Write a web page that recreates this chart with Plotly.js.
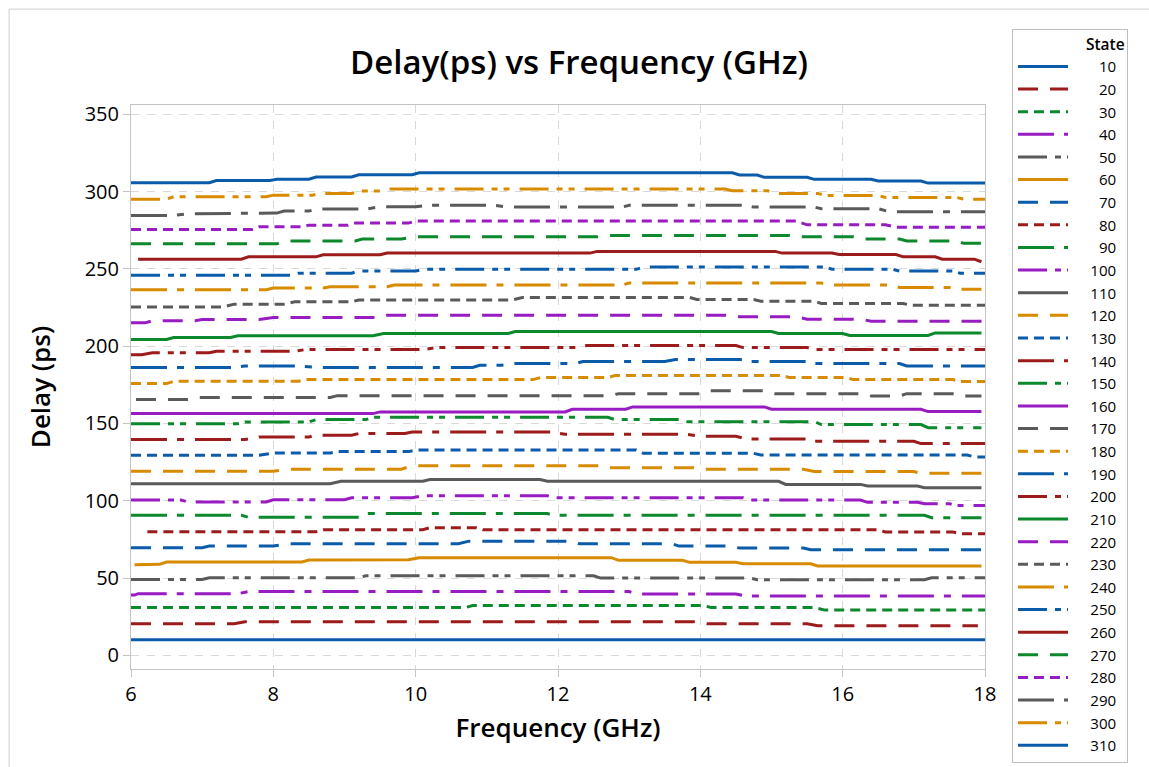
<!DOCTYPE html>
<html>
<head>
<meta charset="utf-8">
<script src="https://cdn.plot.ly/plotly-3.0.1.min.js"></script>
<style>html,body{margin:0;padding:0;background:#fff;}#chart{width:1149px;height:767px;}</style>
</head>
<body>
<div id="chart"></div>
<script>
// State labels
const states = [10,20,30,40,50,60,70,80,90,100,110,120,130,140,150,160,170,180,190,200,210,220,230,240,250,260,270,280,290,300,310];

// Frequency (GHz) breakpoints and delay (ps) values per state
const f10 = [6,18];
const d10 = [10.1,10.1];
const f20 = [6,7.45,7.6,13.95,14.1,15.5,15.65,17.9];
const d20 = [20.5,20.5,21.8,21.8,20.5,20.5,19.2,19.2];
const f30 = [6,10.7,10.8,14.05,14.15,15.6,15.75,18];
const d30 = [31,31,32.2,32.2,31,31,29.3,29.3];
const f40 = [6,6.05,6.1,7.5,7.65,13.0,13.1,14.5,14.65,18];
const d40 = [39,39,39.9,39.9,41.3,41.3,39.7,39.7,38.4,38.4];
const f50 = [6,7.0,7.1,9.2,9.3,12.5,12.6,14.7,14.8,17.15,17.25,18];
const d50 = [49.1,49.1,50.2,50.2,51.5,51.5,50,50,48.9,48.9,50.2,50.2];
const f60 = [6.05,6.4,6.5,8.4,8.5,9.9,10.05,12.75,12.85,13.75,13.85,14.5,14.6,15.55,15.65,17.95];
const d60 = [58.6,58.9,60.4,60.4,61.7,61.9,63.2,63.2,61.5,61.5,60.2,60.2,59.3,59.3,57.8,57.8];
const f70 = [6,7,7.1,8.0,8.2,10.6,10.75,12.2,12.3,13.6,13.7,14.45,14.55,15.45,15.55,17.95];
const d70 = [69.7,69.7,70.7,70.7,72.2,72.2,73.9,73.9,72.2,72.2,70.7,70.7,69.4,69.4,68.4,68.4];
const f80 = [6.23,8.6,8.7,10.1,10.2,10.85,10.95,16.5,16.6,17.55,17.65,18];
const d80 = [80,80,81.3,81.3,82.6,82.6,81.2,81.2,79.8,79.8,78.7,78.7];
const f90 = [6,7.55,7.65,9.2,9.3,11.85,11.95,17.15,17.25,17.95];
const d90 = [90.6,90.6,89.3,89.3,91.7,91.7,90.6,90.6,89.1,89.1];
const f100 = [6,6.7,6.8,7.9,8.0,9.0,9.1,9.95,10.1,11.85,11.95,14.6,14.7,16.25,16.35,17.05,17.15,17.5,17.6,18];
const d100 = [100.5,100.5,99.2,99.2,100.7,100.7,102,102,103.3,103.3,102,102,100.5,100.5,99,99,98.1,98.1,97,97];
const f110 = [6,8.8,8.95,10.1,10.2,11.75,11.85,15.1,15.2,16.25,16.35,17.05,17.15,17.95];
const d110 = [111.1,111.1,112.6,112.6,113.7,113.7,112.6,112.6,110.6,110.6,109.6,109.6,108.5,108.5];
const f120 = [6,8.0,8.2,9.8,9.95,12.6,12.7,13.9,14.0,15.45,15.6,17.0,17.1,17.95];
const d120 = [119.1,119.1,120.4,120.4,122.7,122.7,121.4,121.4,120.4,120.4,118.9,118.9,117.8,117.8];
const f130 = [6,7.8,8.0,8.8,8.9,9.9,10.0,13.1,13.2,14.75,14.85,17.75,17.85,18];
const d130 = [129.4,129.4,130.9,130.9,131.8,131.8,132.8,132.8,130.7,130.7,129.6,129.6,128.4,128.4];
const f140 = [6,7.6,7.8,8.5,8.6,9.1,9.2,9.85,9.95,11.9,12.1,13.8,14.0,14.5,14.65,15.5,15.6,17.0,17.1,18];
const d140 = [139.6,139.6,141.3,141.3,142.4,142.4,143.5,143.5,144.5,144.5,143.0,143.0,141.7,141.7,140.0,140.0,138.5,138.5,137,137];
const f150 = [6,7.5,7.6,8.5,8.6,9.3,9.4,12.7,12.8,13.7,13.8,15.6,15.7,17.1,17.2,17.95];
const d150 = [149.9,149.9,151,151,152.5,152.5,154,154,152.5,152.5,151.2,151.2,149.3,149.3,147.3,147.3];
const f160 = [6,9.4,9.5,12.1,12.2,12.95,13.05,14.9,15.0,17.1,17.2,17.95];
const d160 = [156.4,156.4,157.5,157.5,159.2,159.2,160.7,160.7,159.2,159.2,157.7,157.7];
const f170 = [6.07,6.8,6.95,8.8,8.9,12.75,12.85,14.0,14.1,14.9,15.05,16.3,16.4,16.8,16.9,17.6,17.7,17.95];
const d170 = [165.5,165.5,166.8,166.8,168,168,169.3,169.3,171.1,171.1,169.3,169.3,167.8,167.8,169.3,169.3,167.8,167.8];
const f180 = [6,6.5,6.6,8.35,8.45,11.65,11.75,12.7,12.8,15.15,15.25,16.05,16.15,17.55,17.65,18];
const d180 = [175.8,175.8,177.3,177.3,178.4,178.4,179.7,179.7,181,181,179.7,179.7,178.4,178.4,177.1,177.1];
const f190 = [6,7.45,7.6,8.3,8.7,10.8,10.9,11.2,11.4,12.25,12.35,13.5,13.65,14.6,14.7,15.5,15.6,16.8,16.9,18];
const d190 = [186.2,186.2,187.2,187.2,186.2,186.2,187.7,187.7,188.8,188.8,190.1,190.1,191.4,191.4,190.1,190.1,188.8,188.8,187.2,187.2];
const f200 = [6,6.15,6.3,7.1,7.2,8.3,8.45,10.1,10.3,12.3,12.4,14.5,14.6,15.5,15.6,18];
const d200 = [194.4,194.4,195.7,195.7,196.7,196.7,197.8,197.8,199.1,199.1,200.4,200.4,199.1,199.1,197.8,197.8];
const f210 = [6,6.5,6.6,7.4,7.5,9.4,9.55,11.3,11.4,15.0,15.1,16.0,16.1,17.2,17.3,17.95];
const d210 = [204.3,204.3,205.6,205.6,206.7,206.7,208.2,208.2,209.5,209.5,208.2,208.2,206.9,206.9,208.6,208.6];
const f220 = [6,6.2,6.3,6.9,7.0,7.8,8.0,9.5,9.6,14.4,14.55,15.35,15.5,16.25,16.4,18];
const d220 = [215.1,215.1,216.4,216.4,217.2,217.2,218.5,218.5,220,220,219,219,217.5,217.5,216.2,216.2];
const f230 = [6,7.3,7.45,8.15,8.3,9.1,9.2,11.35,11.5,13.85,13.95,14.75,14.85,15.6,15.7,16.85,16.95,18];
const d230 = [225.4,225.4,227.2,227.2,228.7,228.7,229.8,229.8,231.5,231.5,230.2,230.2,229.1,229.1,227.6,227.6,226.5,226.5];
const f240 = [6,7.9,8.0,8.7,8.8,9.6,9.7,12.9,13.0,15.7,15.85,16.7,16.8,17.5,17.6,17.95];
const d240 = [236.5,236.5,237.6,237.6,238.4,238.4,239.6,239.6,240.8,240.8,239.5,239.5,238,238,236.9,236.9];
const f250 = [6,8.25,8.35,9.1,9.2,10.0,10.1,13.1,13.2,15.75,15.85,16.7,16.8,17.55,17.65,18];
const d250 = [245.9,245.9,247.2,247.2,248.6,248.6,249.7,249.7,251.2,251.2,249.8,249.8,248.6,248.6,247.2,247.2];
const f260 = [6.1,7.55,7.65,8.6,8.7,9.5,9.6,12.45,12.55,15.05,15.15,15.85,15.95,16.75,16.85,17.3,17.4,17.85,17.95];
const d260 = [256.3,256.3,257.8,257.8,259.1,259.1,260.2,260.2,261.3,261.3,260.2,260.2,259.3,259.3,257.8,257.8,256.3,256.3,254.6];
const f270 = [6,8.05,8.15,9.15,9.25,9.8,10.0,12.55,12.7,15.25,15.35,16.15,16.3,16.8,16.9,17.6,17.7,18];
const d270 = [266.2,266.2,268,268,269.3,269.3,270.8,270.8,271.6,271.6,270.8,270.8,269.3,269.3,268,268,266.5,266.5];
const f280 = [6,7.7,7.8,8.4,8.5,9.05,9.15,9.9,10.0,15.35,15.5,16.6,16.75,18];
const d280 = [275.5,275.5,277.2,277.2,278.3,278.3,279.6,279.6,280.9,280.9,278.5,278.5,277,277];
const f290 = [6,6.6,6.8,7.6,7.9,8.05,8.15,8.5,8.6,9.3,9.5,10.0,10.15,11.1,11.3,12.9,13.0,14.6,14.75,15.6,15.7,16.5,16.65,18];
const d290 = [284.6,284.6,285.7,285.7,286.1,286.1,287.4,287.4,288.7,288.7,290.2,290.2,291.1,291.1,290,290,291.1,291.1,290,290,288.9,288.9,287,287];
const f300 = [6,6.5,6.6,7.9,8.0,8.55,8.65,9.1,9.2,9.5,9.6,14.35,14.45,14.95,15.05,15.65,15.75,16.5,16.6,17.6,17.7,18];
const d300 = [295.1,295.1,296.7,296.7,297.7,297.7,298.8,298.8,300.3,300.3,301.6,301.6,300.5,300.5,298.8,298.8,297.5,297.5,296.2,296.2,295.1,295.1];
const f310 = [6,7.1,7.2,7.95,8.05,8.5,8.6,9.1,9.2,9.95,10.05,14.45,14.55,14.8,14.9,15.5,15.6,16.4,16.5,17.1,17.2,18];
const d310 = [305.7,305.7,307.2,307.2,308,308,309.4,309.4,310.9,310.9,312.2,312.2,310.8,310.7,309.2,309.2,307.9,307.9,306.8,306.8,305.5,305.5];

const freqs = [f10,f20,f30,f40,f50,f60,f70,f80,f90,f100,f110,f120,f130,f140,f150,f160,f170,f180,f190,f200,f210,f220,f230,f240,f250,f260,f270,f280,f290,f300,f310];
const delays = [d10,d20,d30,d40,d50,d60,d70,d80,d90,d100,d110,d120,d130,d140,d150,d160,d170,d180,d190,d200,d210,d220,d230,d240,d250,d260,d270,d280,d290,d300,d310];

const palette = ['#0B5BAB','#9C1B1B','#0C882D','#991CC2','#5A5A5A','#D88B00'];
const dashes = ['solid','20px,12px','10px,6px','36px,10px,7px,11px','29px,8px,6px,6px,6px,10px'];
const FONT = 'Open Sans, Noto Sans, sans-serif';
const FS = '\u2007';

const traces = states.map((s, i) => ({
  type: 'scatter',
  mode: 'lines',
  x: freqs[i],
  y: delays[i],
  name: FS + FS + (s < 100 ? FS : '') + s,
  line: {color: palette[i % 6], width: 3, dash: dashes[i % 5]},
  hoverinfo: 'x+y+name'
}));

const layout = {
  width: 1149, height: 767,
  paper_bgcolor: '#fff', plot_bgcolor: '#fff',
  margin: {l: 131, r: 164, t: 105, b: 98},
  font: {family: FONT, color: '#000'},
  title: {text: 'Delay(ps) vs Frequency (GHz)', font: {size: 33, weight: 600, family: FONT, color: '#000'},
          x: 0.504, xref: 'container', xanchor: 'center', y: 0.918, yref: 'container', yanchor: 'middle'},
  xaxis: {
    range: [6, 18], dtick: 2, tick0: 6,
    showgrid: true, gridcolor: '#d9d9d9', griddash: '8px,8px', gridwidth: 1,
    showline: true, mirror: true, linecolor: '#c4c4c4', linewidth: 1,
    ticks: 'outside', ticklen: 7, tickcolor: '#c4c4c4',
    zeroline: false,
    tickfont: {size: 20, family: FONT, color: '#000'},
    title: {text: 'Frequency (GHz)', font: {size: 26, weight: 600, family: FONT, color: '#000'}, standoff: 12}
  },
  yaxis: {
    range: [-8.8, 356], dtick: 50, tick0: 0,
    showgrid: true, gridcolor: '#d9d9d9', griddash: '8px,8px', gridwidth: 1,
    showline: true, mirror: true, linecolor: '#c4c4c4', linewidth: 1,
    ticks: 'outside', ticklen: 7, tickcolor: '#c4c4c4',
    zeroline: false,
    tickfont: {size: 20, family: FONT, color: '#000'},
    title: {text: 'Delay (ps)', font: {size: 26, weight: 600, family: FONT, color: '#000'}, standoff: 26}
  },
  showlegend: true,
  legend: {
    x: 1.0316, xanchor: 'left', y: 1.1348, yanchor: 'top',
    maxheight: 760,
    bordercolor: '#bdbdbd', borderwidth: 1, bgcolor: '#fff',
    font: {size: 15.1, family: FONT, color: '#000'},
    title: {text: FS + FS + FS + FS + FS + FS + FS + FS + 'State', font: {size: 15.5, weight: 600, family: FONT, color: '#000'}},
    itemwidth: 50, tracegroupgap: 0,
    itemclick: false, itemdoubleclick: false
  },
  shapes: [
    {type: 'rect', xref: 'paper', yref: 'paper', x0: -0.1427, x1: 1.25, y0: -0.3, y1: 1.170,
     line: {color: '#d0d0d0', width: 1}, fillcolor: 'rgba(0,0,0,0)', layer: 'below'}
  ]
};

Plotly.newPlot('chart', traces, layout, {displayModeBar: false, staticPlot: true});
</script>
</body>
</html>
